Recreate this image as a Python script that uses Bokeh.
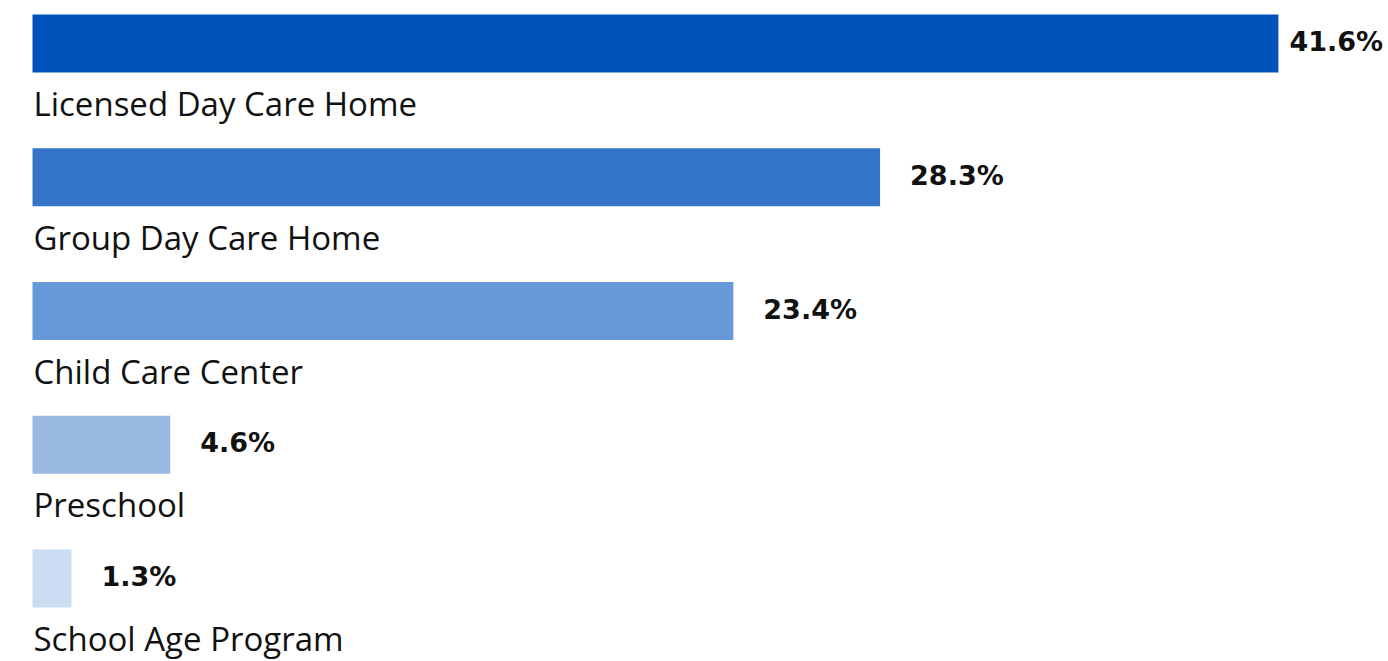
from bokeh.plotting import figure
from bokeh.models import Range1d, ColumnDataSource
from bokeh.core.properties import value
from bokeh.embed import file_html
from bokeh.resources import INLINE

categories = ["Licensed Day Care Home", "Group Day Care Home", "Child Care Center", "Preschool", "School Age Program"]
values = [41.6, 28.3, 23.4, 4.6, 1.3]
colors = ["#0052BB", "#3575C8", "#6699D8", "#99B8E2", "#CADCF1"]

W, H = 1388, 661
px_per_unit = 29.95
left_px = 32
row_px = 133.75
first_center_px = 43

x0 = -left_px / px_per_unit
x1 = (W - left_px) / px_per_unit
y_top = -first_center_px / row_px
y_bot = (H - first_center_px) / row_px

p = figure(width=W, height=H, output_backend="svg", toolbar_location=None,
           x_range=Range1d(x0, x1), y_range=Range1d(y_bot, y_top),
           min_border=0, outline_line_color=None)
p.axis.visible = False
p.grid.visible = False
p.background_fill_color = "white"
p.border_fill_color = "white"

idx = list(range(len(values)))
gap = 30 / px_per_unit
lbl_w = 99 / px_per_unit
lx = [min(v + gap, x1 - lbl_w) for v in values]
src = ColumnDataSource(dict(y=[i - 2 / row_px for i in idx], yb=idx, v=values, c=colors, cat=categories, lx=lx,
                            txt=[f"{v:.1f}%" for v in values],
                            ly=[i + 60 / row_px for i in idx],
                            cx=[1 / px_per_unit] * len(values)))

p.hbar(y="yb", left=0, right="v", height=58 / row_px, color="c", source=src, line_color=None)
p.text(x="lx", y="y", text="txt", source=src, text_font=value("DejaVu Sans"), text_font_style="bold",
       text_font_size="27px", text_baseline="middle", text_align="left", text_color="#111111")
p.text(x="cx", y="ly", text="cat", source=src, text_font=value("Open Sans"),
       text_font_size="33px", text_baseline="middle", text_align="left", text_color="#111111")

open("out.html", "w").write(file_html(p, INLINE))
